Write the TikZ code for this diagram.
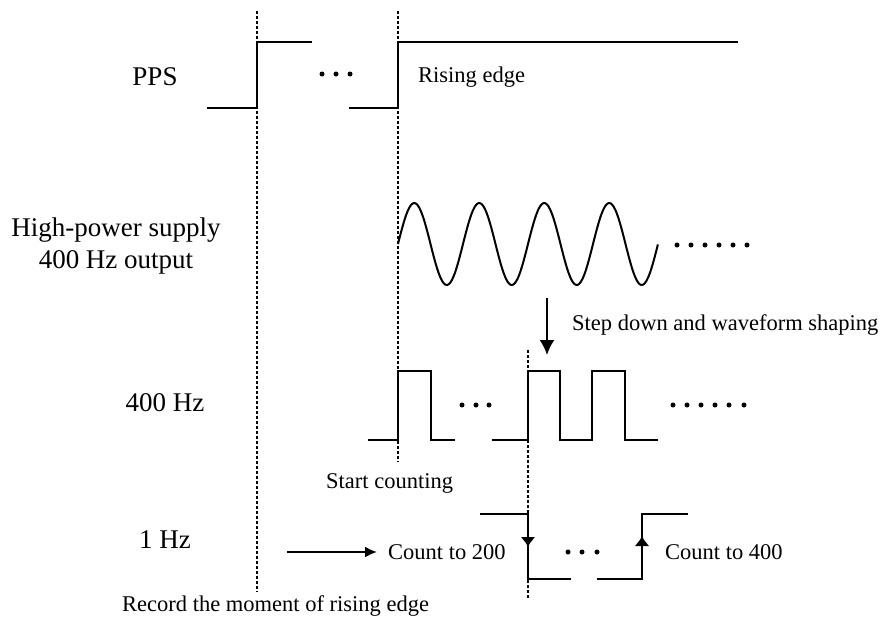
\documentclass[tikz,border=0pt]{standalone}
\usepackage{fontspec}
\setmainfont{Liberation Serif}
\usetikzlibrary{arrows.meta}

\begin{document}
\begin{tikzpicture}[x=1pt,y=-1pt,>={Latex[length=12pt,width=11pt]},
        wave/.style={line width=2pt},
        guide/.style={line width=1.6pt,dash pattern=on 3pt off 2pt},
        siglabel/.style={font=\fontsize{27}{32}\selectfont,align=center,inner sep=0pt},
        note/.style={font=\fontsize{22.5}{26}\selectfont,anchor=west,inner sep=0pt},
        edgetip/.style={wave,-{Latex[length=10pt,width=15pt]}}]
        \useasboundingbox (0,0) rectangle (883,625);

        \node[siglabel] (pps) at (155,77) {PPS};
        \node[siglabel] (hps) at (116,246) {High-power supply\\400 Hz output};
        \node[siglabel] (sq400) at (165,403) {400 Hz};
        \node[siglabel] (sq1) at (165,540) {1 Hz};

        \draw[guide] (257,11) -- (257,592);
        \draw[guide] (398,11) -- (398,462);
        \draw[guide] (528,350) -- (528,598);

        \draw[wave] (207,108) -- (257,108) -- (257,42) -- (312,42);
        \draw[wave] (349,108) -- (398,108) -- (398,42) -- (738,42);
        \foreach \x in {322,336,350} \fill (\x,74) circle (2.5pt);
        \node[note] (rise) at (418,77) {Rising edge};

        \draw[wave] plot[domain=0:4,samples=160,smooth] ({398+65*\x},{244-41*sin(360*\x)});
        \foreach \x in {677,691,705,719,733,747} \fill (\x,245) circle (2.5pt);

        \coordinate (sdtop) at (547,298);
        \coordinate (sdbot) at (547,355);
        \draw[wave,-{Latex[length=15pt,width=15pt]}] (sdtop) -- (sdbot);
        \node[note] (stepdown) at (572,325) {Step down and waveform shaping};

        \draw[wave] (368,440) -- (398,440) -- (398,371) -- (431,371) -- (431,440) -- (455,440);
        \draw[wave] (492,440) -- (528,440) -- (528,371) -- (560,371) -- (560,440)
            -- (592,440) -- (592,371) -- (625,371) -- (625,440) -- (658,440);
        \foreach \x in {462,476,489} \fill (\x,405) circle (2.5pt);
        \foreach \x in {673,687,701,715,729,744} \fill (\x,405) circle (2.5pt);
        \node[note] (start) at (326,483) {Start counting};

        \draw[wave] (480,514) -- (528,514) -- (528,579) -- (571,579);
        \draw[wave] (597,579) -- (642,579) -- (642,514) -- (688,514);
        \draw[edgetip] (528,514) -- (528,547);
        \draw[edgetip] (642,579) -- (642,536);
        \foreach \x in {568,582,597} \fill (\x,552) circle (2.5pt);
        \node[note] (cnt200) at (388,552) {Count to 200};
        \node[note] (cnt400) at (665,552) {Count to 400};
        \coordinate (cntfrom) at (287,552);
        \draw[wave,->] (cntfrom) -- ([xshift=-11pt]cnt200.west);

        \node[note] (record) at (122,606) {Record the moment of rising edge};
    \end{tikzpicture}
\end{document}
